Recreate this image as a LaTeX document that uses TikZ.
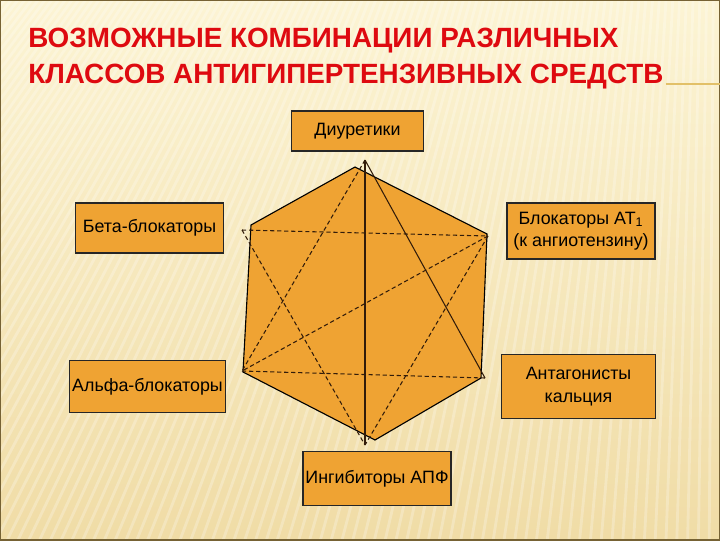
\documentclass[tikz,border=0pt]{standalone}
\usepackage{fontspec}
\setmainfont{Liberation Sans}
\usetikzlibrary{positioning}

\definecolor{bgtop}{RGB}{252,244,212}
\definecolor{bgbottom}{RGB}{240,220,166}
\definecolor{framebrown}{RGB}{118,98,52}
\definecolor{boxorange}{RGB}{239,163,51}
\definecolor{titlered}{RGB}{222,10,16}
\definecolor{rulegold}{RGB}{226,192,104}
\definecolor{linkbrown}{RGB}{50,28,10}

\tikzset{
  titletext/.style={anchor=base west, inner sep=0pt, text=titlered,
    font=\bfseries\fontsize{19.8}{24}\selectfont},
  drugbox/.style={draw=black!85, fill=boxorange, line width=0.8pt,
    align=center, inner sep=0pt, font=\fontsize{12.7}{16}\selectfont},
  link/.style={draw=linkbrown, line width=0.75pt},
  linkdash/.style={link, dash pattern=on 3pt off 2pt},
}

\begin{document}
\begin{tikzpicture}[x=0.025cm,y=-0.025cm]
  \useasboundingbox (0,0) rectangle (720,540);
  % background with fan of stripes
  \begin{scope}
    \clip (0,0) rectangle (720,540);
    \shade[top color=bgtop,bottom color=bgbottom] (0,0) rectangle (720,540);
    \foreach \k in {0,...,120}
      \draw[white,opacity=0.25,line width=2pt] (720,-900) -- ({720-12*\k},700);
  \end{scope}
  \draw[framebrown,line width=1.2pt] (0,0) rectangle (720,540);
  % title
  \node (title1) at (28,47) [titletext] {ВОЗМОЖНЫЕ КОМБИНАЦИИ РАЗЛИЧНЫХ};
  \node (title2) at (28,83) [titletext] {КЛАССОВ АНТИГИПЕРТЕНЗИВНЫХ СРЕДСТВ};
  \coordinate (ruleend) at (720,84);
  \draw[rulegold,line width=1.2pt] (title2.base east) ++(2,1) -- (ruleend);
  % hexagon
  \coordinate (h1) at (355,167);
  \coordinate (h2) at (487,234);
  \coordinate (h3) at (481,378);
  \coordinate (h4) at (375,440);
  \coordinate (h5) at (243,372);
  \coordinate (h6) at (251,225);
  \filldraw[fill=boxorange,draw=black,line width=0.8pt] (h1) -- (h2) -- (h3) -- (h4) -- (h5) -- (h6) -- cycle;
  % ends of the combination lines
  \coordinate (pT) at (365,160);
  \coordinate (pUR) at (488,236);
  \coordinate (pLR) at (485,378);
  \coordinate (pB) at (365,445);
  \coordinate (pLL) at (242,371);
  \coordinate (pUL) at (242,230);
  \draw[link] (pT) -- (pB);
  \draw[link] (pT) -- (pLR);
  \draw[linkdash] (pT) -- (pLL);
  \draw[linkdash] (pUL) -- (pUR);
  \draw[linkdash] (pLL) -- (pLR);
  \draw[linkdash] (pUL) -- (pB);
  \draw[linkdash] (pUR) -- (pLL);
  \draw[linkdash] (pUR) -- (pB);
  % drug classes
  \node (diur) at (357.5,131) [drugbox,minimum width=3.28cm,minimum height=1.0cm] {Диуретики};
  \node (atblock) at (581,231) [drugbox,minimum width=3.7cm,minimum height=1.4cm] {Блокаторы AT\textsubscript{1}\\(к ангиотензину)};
  \node (calcant) at (578.5,386.5) [drugbox,minimum width=3.83cm,minimum height=1.58cm] {Антагонисты\\кальция};
  \node (betablock) at (149.5,228) [drugbox,minimum width=3.68cm,minimum height=1.25cm] {Бета-блокаторы};
  \node (alphablock) at (147.5,386.5) [drugbox,minimum width=3.88cm,minimum height=1.28cm] {Альфа-блокаторы};
  \node (acei) at (377,478.5) [drugbox,minimum width=3.7cm,minimum height=1.33cm] {Ингибиторы АПФ};
\end{tikzpicture}
\end{document}
